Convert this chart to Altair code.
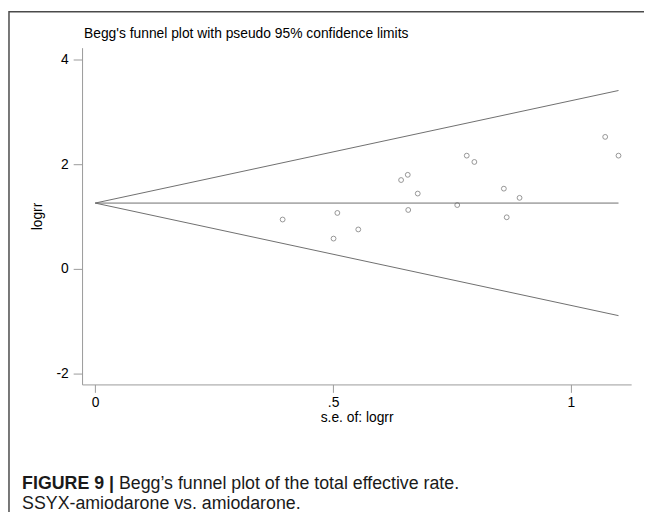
import altair as alt
import pandas as pd

# Study-level data
se = [0.394, 0.509, 0.501, 0.553, 0.643, 0.657, 0.678, 0.658, 0.761, 0.781, 0.797, 0.859, 0.892, 0.865, 1.072, 1.100]
logrr = [0.94, 1.066, 0.575, 0.75, 1.696, 1.796, 1.437, 1.123, 1.217, 2.163, 2.042, 1.531, 1.355, 0.983, 2.522, 2.163]

# Funnel (pseudo 95% limits) end points
funnel_se = [0.0, 1.10]
funnel_upper = [1.255, 3.41]
funnel_lower = [1.255, -0.90]
funnel_center = [1.255, 1.255]

x_ticks = [0, 0.5, 1]
y_ticks = [-2, 0, 2, 4]
x_domain = [-0.0276, 1.1266]
y_domain = [-2.217, 4.23]

FONT = "Liberation Sans"
GREY = "#6e6e6e"

pts = pd.DataFrame({"se": se, "logrr": logrr})
fun = pd.DataFrame({
    "se": funnel_se * 3,
    "val": funnel_upper + funnel_lower + funnel_center,
    "line": ["upper"] * 2 + ["lower"] * 2 + ["center"] * 2,
})

xs = alt.Scale(domain=x_domain, nice=False, zero=False)
ys = alt.Scale(domain=y_domain, nice=False, zero=False)

x_axis = alt.Axis(
    values=x_ticks, grid=False, title="s.e. of: logrr",
    labelExpr="datum.value == 0.5 ? '.5' : '' + datum.value",
    tickSize=8, tickColor="#999999", domainColor="#999999",
    labelFont=FONT, labelFontSize=14, labelColor="#000000", labelPadding=3,
    titleFont=FONT, titleFontSize=14, titleFontWeight="normal", titleColor="#000000",
    titlePadding=2,
)
y_axis = alt.Axis(
    values=y_ticks, grid=False, title="logrr", labelAngle=0,
    labelExpr="'' + datum.value",
    tickSize=9, tickColor="#999999", domainColor="#999999",
    labelFont=FONT, labelFontSize=14, labelColor="#000000", labelPadding=5,
    titleFont=FONT, titleFontSize=14, titleFontWeight="normal", titleColor="#000000",
    titlePadding=12,
)

lines = alt.Chart(fun).mark_line(color=GREY, strokeWidth=1).encode(
    x=alt.X("se:Q", scale=xs, axis=x_axis),
    y=alt.Y("val:Q", scale=ys, axis=y_axis),
    detail="line:N",
)

points = alt.Chart(pts).mark_point(
    shape="circle", filled=False, size=24, color="#5a5a5a", strokeWidth=0.9
).encode(
    x=alt.X("se:Q", scale=xs),
    y=alt.Y("logrr:Q", scale=ys),
)

one = alt.Data(values=[{"a": 1}])

title_txt = alt.Chart(one).mark_text(
    text="Begg's funnel plot with pseudo 95% confidence limits",
    font=FONT, fontSize=14, align="left", baseline="alphabetic", color="#000000"
).encode(x=alt.value(2), y=alt.value(-10))

border = alt.Chart(one).mark_rect(
    fill=None, stroke="#4a4a4a", strokeWidth=1.5
).encode(x=alt.value(-74), y=alt.value(-36.3), x2=alt.value(600), y2=alt.value(500))

CAP_SIZE = 18
cap1 = alt.Chart(one).mark_text(
    text="FIGURE 9 |", font=FONT, fontSize=CAP_SIZE, fontWeight="bold",
    align="left", baseline="alphabetic", color="#1a1a1a"
).encode(x=alt.value(-60.7), y=alt.value(447))

cap2 = alt.Chart(one).mark_text(
    text="Begg\u2019s funnel plot of the total effective rate.", font=FONT, fontSize=CAP_SIZE,
    align="left", baseline="alphabetic", color="#1a1a1a"
).encode(x=alt.value(37.4), y=alt.value(447))

cap3 = alt.Chart(one).mark_text(
    text="SSYX-amiodarone vs. amiodarone.", font=FONT, fontSize=CAP_SIZE,
    align="left", baseline="alphabetic", color="#1a1a1a"
).encode(x=alt.value(-60.7), y=alt.value(467))

chart = alt.layer(lines, points, title_txt, border, cap1, cap2, cap3).properties(
    width=556, height=341,
    autosize=alt.AutoSizeParams(type="none"),
    padding={"left": 75, "top": 37, "right": 13, "bottom": 126},
    background="white",
).configure_view(stroke=None)

chart.save("out.html", embed_options={"renderer": "svg", "actions": False})
